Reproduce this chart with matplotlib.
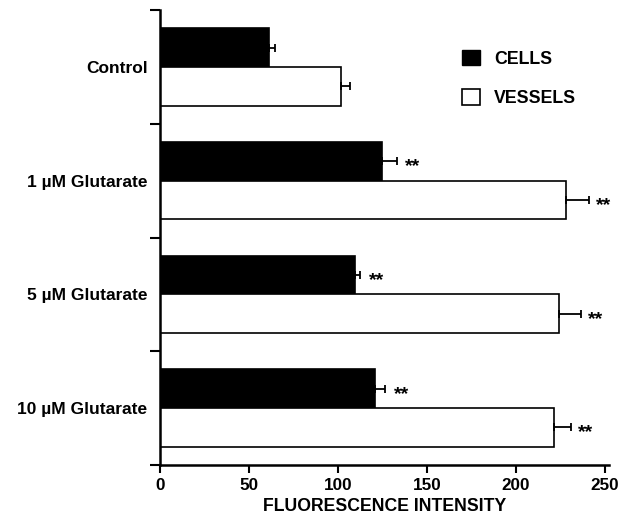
import matplotlib
matplotlib.use("Agg")
import matplotlib.pyplot as plt
from matplotlib.patches import Patch
import numpy as np

categories = ["Control", "1 \u00b5M Glutarate", "5 \u00b5M Glutarate", "10 \u00b5M Glutarate"]
cells = [61.5, 124.5, 109.5, 121]
cells_err = [3, 8.5, 3, 5.5]
vessels = [101.5, 228, 224, 221.5]
vessels_err = [5.5, 13, 12.5, 9.5]
cells_sig = ["", "**", "**", "**"]
vessels_sig = ["", "**", "**", "**"]
xticks = [0, 50, 100, 150, 200, 250]

plt.rcParams['font.family'] = ['Liberation Sans', 'DejaVu Sans']
plt.rcParams['font.weight'] = 'bold'

fig = plt.figure(figsize=(6.27, 5.17), dpi=100)
ax = fig.add_axes([160 / 627, 1 - 465 / 517, 448.6 / 627, 455 / 517])

y = np.arange(len(categories))
h = 0.34
ax.barh(y - h / 2, cells, height=h, color="black", edgecolor="black", linewidth=1.2, zorder=2)
ax.barh(y + h / 2, vessels, height=h, color="white", edgecolor="black", linewidth=1.2, zorder=2)

ax.errorbar(cells, y - h / 2, xerr=[np.zeros(len(cells)), cells_err], fmt="none",
            ecolor="black", elinewidth=1.3, capsize=3.2, capthick=1.3, zorder=3)
ax.errorbar(vessels, y + h / 2, xerr=[np.zeros(len(vessels)), vessels_err], fmt="none",
            ecolor="black", elinewidth=1.3, capsize=3.2, capthick=1.3, zorder=3)

for i in range(len(categories)):
    if cells_sig[i]:
        ax.annotate(cells_sig[i], (cells[i] + cells_err[i], y[i] - h / 2),
                    xytext=(6, -4), textcoords="offset points", va="center", ha="left",
                    fontsize=14, fontweight="bold")
    if vessels_sig[i]:
        ax.annotate(vessels_sig[i], (vessels[i] + vessels_err[i], y[i] + h / 2),
                    xytext=(5, -4), textcoords="offset points", va="center", ha="left",
                    fontsize=14, fontweight="bold")

ax.set_xlim(0, 252)
ax.set_ylim(3.5, -0.5)
ax.set_xticks(xticks)
ax.set_xticklabels([str(t) for t in xticks], fontsize=12.3, fontweight="bold")
ax.set_yticks(y)
ax.set_yticklabels(categories, fontsize=12.5, fontweight="bold")
ax.tick_params(axis="y", which="major", length=0, pad=9)
ax.set_yticks(np.arange(-0.5, len(categories), 1.0), minor=True)
ax.tick_params(axis="y", which="minor", length=7, width=1.5, direction="out")
ax.tick_params(axis="x", length=6, width=1.5, direction="out", pad=3)
ax.set_xlabel("FLUORESCENCE INTENSITY", fontsize=12.7, fontweight="bold", labelpad=4)

for side in ("top", "right"):
    ax.spines[side].set_visible(False)
for side in ("left", "bottom"):
    ax.spines[side].set_linewidth(1.8)

handles = [Patch(facecolor="black", edgecolor="black", label="CELLS"),
           Patch(facecolor="white", edgecolor="black", linewidth=1.2, label="VESSELS")]
ax.legend(handles=handles, loc="upper left", bbox_to_anchor=(0.673, 0.913), frameon=False,
          borderpad=0, borderaxespad=0,
          handlelength=1.0, handleheight=1.0, labelspacing=1.2, handletextpad=0.8,
          prop={"size": 12.8, "weight": "bold"})

fig.savefig("out.png", dpi=100)
